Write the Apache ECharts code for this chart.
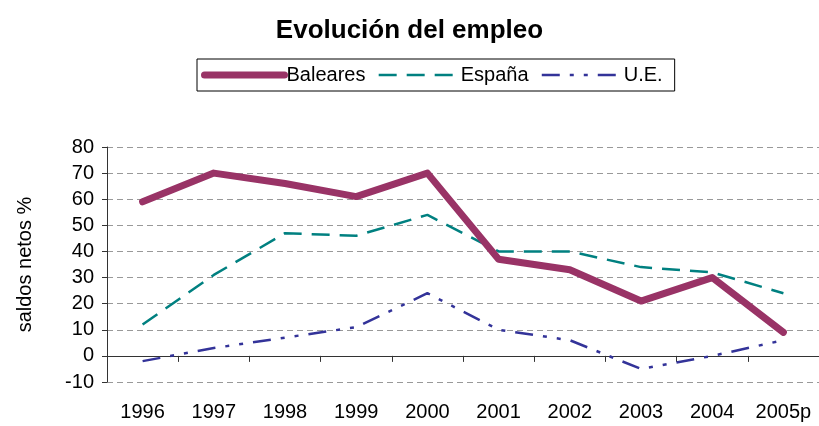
<!DOCTYPE html>
<html>
<head>
<meta charset="utf-8">
<script src="https://cdn.jsdelivr.net/npm/echarts@6/dist/echarts.min.js"></script>
<style>
  html, body { margin: 0; padding: 0; background: #fff; }
  #grafica { width: 819px; height: 426px; }
</style>
</head>
<body>
<div id="grafica"></div>
<script>
const annios = ['1996','1997','1998','1999','2000','2001','2002','2003','2004','2005p'];
const baleares = [59, 70, 66, 61, 70, 37, 33, 21, 30, 9];
const espana = [12, 31, 47, 46, 54, 40, 40, 34, 32, 24];
const ue = [-2, 3, 7, 11, 24, 10, 6, -5, 0, 6];

const fuente = 'Liberation Sans, Arial, sans-serif';

const colores = { baleares: '#993366', espana: '#008080', ue: '#333399' };
const trazoEspana = [18, 10];
const trazoUE = [18, 10, 4, 10, 4, 10];

const myChart = echarts.init(document.getElementById('grafica'));

const option = {
  animation: false,
  title: {
    text: 'Evolución del empleo',
    left: 'center',
    top: 13,
    textStyle: { fontFamily: fuente, fontSize: 26, fontWeight: 'bold', color: '#000' }
  },
  legend: {
    left: 197,
    top: 59,
    itemWidth: 80,
    itemHeight: 14,
    itemGap: 12,
    padding: [6, 12, 6, 4],
    borderColor: '#000',
    borderWidth: 1,
    itemStyle: { opacity: 0 },
    textStyle: { fontFamily: fuente, fontSize: 20, color: '#000', padding: [0, 0, 0, -3] },
    data: [
      { name: 'Baleares', lineStyle: { width: 7, color: colores.baleares, cap: 'round' } },
      { name: 'España', lineStyle: { width: 2.5, color: colores.espana, type: trazoEspana } },
      { name: 'U.E.', lineStyle: { width: 2.5, color: colores.ue, type: trazoUE } }
    ]
  },
  grid: { left: 107, right: 0, top: 147, bottom: 44 },
  xAxis: [
    {
      type: 'category',
      data: annios,
      axisLine: { show: false, onZero: false },
      axisTick: { show: false },
      axisLabel: { fontFamily: fuente, fontSize: 20, color: '#000', margin: 20, interval: 0, hideOverlap: false }
    },
    {
      type: 'category',
      data: annios,
      position: 'bottom',
      axisLine: { show: true, onZero: true, lineStyle: { color: '#333', width: 1 } },
      axisTick: { show: true, length: 6, inside: false, interval: 0, lineStyle: { color: '#333' } },
      axisLabel: { show: false }
    }
  ],
  yAxis: {
    type: 'value',
    min: -10,
    max: 80,
    interval: 10,
    name: 'saldos netos %',
    nameLocation: 'middle',
    nameGap: 72,
    nameTextStyle: { fontFamily: fuente, fontSize: 20, color: '#000' },
    axisLine: { show: true, lineStyle: { color: '#333' } },
    axisTick: { show: true, length: 5, lineStyle: { color: '#333' } },
    axisLabel: { fontFamily: fuente, fontSize: 20, color: '#000', margin: 13 },
    splitLine: { show: true, lineStyle: { color: '#999', type: [6, 4], width: 1 } }
  },
  series: [
    {
      name: 'Baleares',
      type: 'line',
      data: baleares,
      symbol: 'none',
      color: colores.baleares,
      lineStyle: { color: colores.baleares, width: 7, cap: 'round', join: 'round' },
      z: 3
    },
    {
      name: 'España',
      type: 'line',
      data: espana,
      symbol: 'none',
      color: colores.espana,
      lineStyle: { color: colores.espana, width: 2.5, type: trazoEspana },
      z: 2
    },
    {
      name: 'U.E.',
      type: 'line',
      data: ue,
      symbol: 'none',
      color: colores.ue,
      lineStyle: { color: colores.ue, width: 2.5, type: trazoUE },
      z: 2
    }
  ]
};

myChart.setOption(option);
</script>
</body>
</html>
